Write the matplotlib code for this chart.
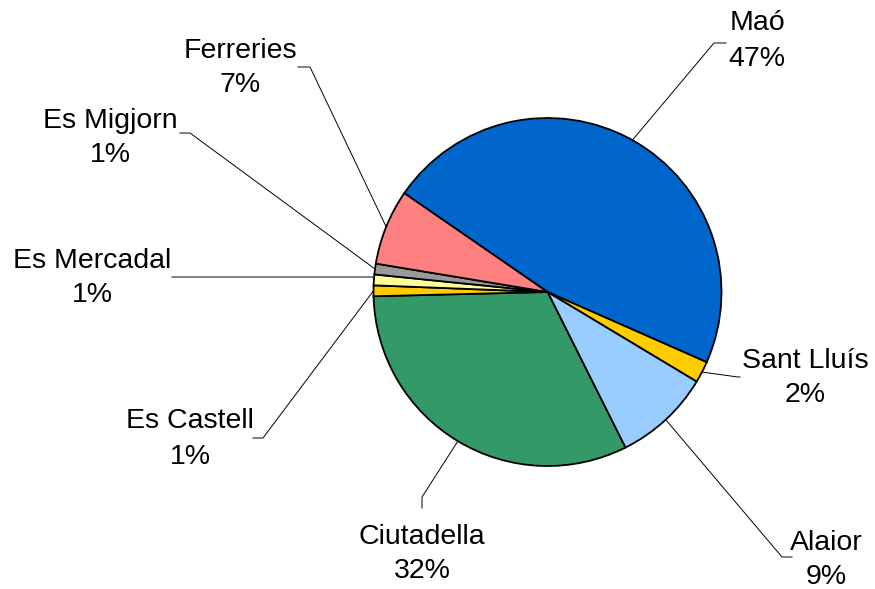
import numpy as np
import matplotlib.pyplot as plt

plt.rcParams['font.family'] = ['Liberation Sans', 'DejaVu Sans']

# data
towns = ["Maó", "Sant Lluís", "Alaior", "Ciutadella", "Es Castell",
         "Es Mercadal", "Es Migjorn", "Ferreries"]
shares = [47, 2, 9, 32, 1, 1, 1, 7]
colors = ["#0066CC", "#FFCC00", "#99CCFF", "#339966", "#FFCC00",
          "#FFFF99", "#999999", "#FF8080"]

W, H = 875, 589
fig = plt.figure(figsize=(W / 100, H / 100), dpi=100)
ax = fig.add_axes([0, 0, 1, 1])

cx, cy, R = 547.5, H - 292, 174
start = 145.4
wedges, _ = ax.pie(shares, colors=colors, startangle=start, counterclock=False,
                   center=(cx, cy), radius=R, frame=True,
                   wedgeprops=dict(edgecolor='black', linewidth=1.3))
ax.set_xlim(0, W)
ax.set_ylim(0, H)
ax.axis('off')

# label layout: (text x, text y (top-down px), elbow, end of short segment)
layout = {
    "Maó":         ((757, 41),  (714, 43),  (726, 43)),
    "Sant Lluís":  ((805, 378), (738, 377), (740, 377)),
    "Alaior":      ((826, 560), (782, 557), (792, 557)),
    "Ciutadella":  ((422, 554), (422, 497), (422, 508)),
    "Es Castell":  ((190, 439), (263, 438), (253, 438)),
    "Es Mercadal": ((92, 278),  (373, 277), (172, 277)),
    "Es Migjorn":  ((110, 138), (190, 133), (180, 133)),
    "Ferreries":   ((240, 68),  (310, 67),  (298, 67)),
}

for w, name, val in zip(wedges, towns, shares):
    mid = np.deg2rad((w.theta1 + w.theta2) / 2)
    ax0 = cx + R * np.cos(mid)
    ay0 = cy + R * np.sin(mid)
    (tx, ty), (ex, ey), (hx, hy) = layout[name]
    ax.plot([ax0, ex, hx], [ay0, H - ey, H - hy], color='black', lw=0.7)
    ax.text(tx, H - ty, f"{name}\n{val}%", ha='center', va='center',
            fontsize=20.5, linespacing=1.45)

fig.savefig("out.png", dpi=100)
